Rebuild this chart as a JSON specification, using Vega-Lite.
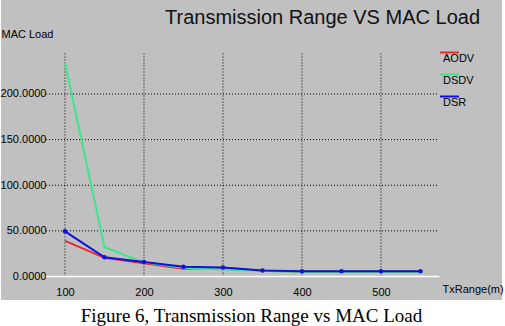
{
  "$schema": "https://vega.github.io/schema/vega-lite/v6.json",
  "width": 501,
  "height": 300,
  "padding": 0,
  "autosize": {"type": "pad"},
  "background": "white",
  "config": {
    "view": {"fill": "#c0c0c0", "stroke": null},
    "font": "Liberation Sans",
    "legend": {
      "orient": "none",
      "legendX": 438,
      "legendY": 42,
      "symbolType": "stroke",
      "symbolSize": 361,
      "symbolStrokeWidth": 2,
      "labelOffset": -17,
      "labelBaseline": "top",
      "labelFont": "Liberation Sans",
      "labelFontSize": 11,
      "labelColor": "black",
      "rowPadding": -3,
      "padding": 0
    }
  },
  "title": {
    "text": "Figure 6, Transmission Range vs MAC Load",
    "orient": "bottom",
    "anchor": "middle",
    "font": "Liberation Serif",
    "fontSize": 19,
    "fontWeight": "normal",
    "color": "black",
    "offset": 7
  },
  "datasets": {
    "load": [
      {"series": "AODV", "range": 100, "load": 39},
      {"series": "AODV", "range": 150, "load": 20.5},
      {"series": "AODV", "range": 200, "load": 14.5},
      {"series": "AODV", "range": 250, "load": 8.5},
      {"series": "AODV", "range": 300, "load": 9.5},
      {"series": "AODV", "range": 350, "load": 6.3},
      {"series": "AODV", "range": 400, "load": 5.6},
      {"series": "AODV", "range": 450, "load": 5.6},
      {"series": "AODV", "range": 500, "load": 5.6},
      {"series": "AODV", "range": 550, "load": 5.6},
      {"series": "DSDV", "range": 100, "load": 234},
      {"series": "DSDV", "range": 150, "load": 32},
      {"series": "DSDV", "range": 200, "load": 15.5},
      {"series": "DSDV", "range": 250, "load": 9.6},
      {"series": "DSDV", "range": 300, "load": 7.7},
      {"series": "DSDV", "range": 350, "load": 6.0},
      {"series": "DSDV", "range": 400, "load": 5.2},
      {"series": "DSDV", "range": 450, "load": 5.2},
      {"series": "DSDV", "range": 500, "load": 5.2},
      {"series": "DSDV", "range": 550, "load": 5.2},
      {"series": "DSR", "range": 100, "load": 49.5},
      {"series": "DSR", "range": 150, "load": 21},
      {"series": "DSR", "range": 200, "load": 15.8},
      {"series": "DSR", "range": 250, "load": 10.7},
      {"series": "DSR", "range": 300, "load": 9.9},
      {"series": "DSR", "range": 350, "load": 6.5},
      {"series": "DSR", "range": 400, "load": 5.8},
      {"series": "DSR", "range": 450, "load": 5.8},
      {"series": "DSR", "range": 500, "load": 5.8},
      {"series": "DSR", "range": 550, "load": 5.8}
    ],
    "vgrid": [{"range": 100}, {"range": 200}, {"range": 300}, {"range": 400}, {"range": 500}],
    "hgrid": [{"load": 50}, {"load": 100}, {"load": 150}, {"load": 200}]
  },
  "layer": [
    {
      "data": {"name": "vgrid"},
      "mark": {"type": "rule", "stroke": "black", "strokeDash": [1, 2], "strokeWidth": 1},
      "encoding": {
        "x": {"field": "range", "type": "quantitative", "scale": {"domain": [19, 653.2], "nice": false, "zero": false}},
        "y": {"datum": 0, "type": "quantitative", "scale": {"domain": [-25.75, 303], "nice": false, "zero": false}},
        "y2": {"datum": 246}
      }
    },
    {
      "data": {"name": "hgrid"},
      "mark": {"type": "rule", "stroke": "black", "strokeDash": [1, 2], "strokeWidth": 1},
      "encoding": {
        "y": {"field": "load", "type": "quantitative", "scale": {"domain": [-25.75, 303], "nice": false, "zero": false}},
        "x": {"datum": 76, "type": "quantitative", "scale": {"domain": [19, 653.2], "nice": false, "zero": false}},
        "x2": {"datum": 572}
      }
    },
    {
      "data": {"values": [{}]},
      "mark": {"type": "rule", "stroke": "white", "strokeWidth": 1.5},
      "encoding": {
        "y": {"datum": 0, "type": "quantitative", "scale": {"domain": [-25.75, 303], "nice": false, "zero": false}},
        "x": {"datum": 76, "type": "quantitative", "scale": {"domain": [19, 653.2], "nice": false, "zero": false}},
        "x2": {"datum": 574}
      }
    },
    {
      "data": {"name": "load"},
      "mark": {"type": "line", "strokeWidth": 2},
      "encoding": {
        "x": {
          "field": "range", "type": "quantitative",
          "scale": {"domain": [19, 653.2], "nice": false, "zero": false},
          "axis": {
            "values": [100, 200, 300, 400, 500],
            "orient": "bottom", "offset": -23.5,
            "grid": false, "domain": false, "ticks": false,
            "labelPadding": 10, "labelFont": "Liberation Sans", "labelFontSize": 11, "labelColor": "black",
            "title": "TxRange(m)", "titleX": 441, "titleY": 13, "titleAlign": "left", "titleBaseline": "middle",
            "titleFont": "Liberation Sans", "titleFontSize": 11, "titleFontWeight": "normal", "titleColor": "black"
          }
        },
        "y": {
          "field": "load", "type": "quantitative",
          "scale": {"domain": [-25.75, 303], "nice": false, "zero": false},
          "axis": {
            "values": [0, 50, 100, 150, 200], "format": ".4f",
            "orient": "left", "offset": -46,
            "grid": false, "domain": false, "ticks": false,
            "labelPadding": 1, "labelFont": "Liberation Sans", "labelFontSize": 11, "labelColor": "black",
            "title": "MAC Load", "titleAngle": 0, "titleX": -46, "titleY": 34, "titleAlign": "left", "titleBaseline": "middle",
            "titleFont": "Liberation Sans", "titleFontSize": 11, "titleFontWeight": "normal", "titleColor": "black"
          }
        },
        "color": {
          "field": "series", "type": "nominal",
          "scale": {"domain": ["AODV", "DSDV", "DSR"], "range": ["#e8282c", "#3ce68c", "#1010e0"]},
          "legend": {"title": null}
        }
      }
    },
    {
      "data": {"name": "load"},
      "transform": [{"filter": "datum.series === 'DSR'"}],
      "mark": {"type": "point", "shape": "circle", "filled": true, "size": 20, "opacity": 1},
      "encoding": {
        "x": {"field": "range", "type": "quantitative", "scale": {"domain": [19, 653.2], "nice": false, "zero": false}},
        "y": {"field": "load", "type": "quantitative", "scale": {"domain": [-25.75, 303], "nice": false, "zero": false}},
        "color": {"field": "series", "type": "nominal", "scale": {"domain": ["AODV", "DSDV", "DSR"], "range": ["#e8282c", "#3ce68c", "#1010e0"]}, "legend": null}
      }
    },
    {
      "data": {"values": [{"label": "Transmission Range VS MAC Load"}]},
      "mark": {"type": "text", "font": "Liberation Sans", "fontSize": 20, "align": "center", "baseline": "alphabetic", "color": "#111111"},
      "encoding": {
        "text": {"field": "label"},
        "x": {"datum": 426, "type": "quantitative", "scale": {"domain": [19, 653.2], "nice": false, "zero": false}},
        "y": {"datum": 276.7, "type": "quantitative", "scale": {"domain": [-25.75, 303], "nice": false, "zero": false}}
      }
    }
  ]
}
